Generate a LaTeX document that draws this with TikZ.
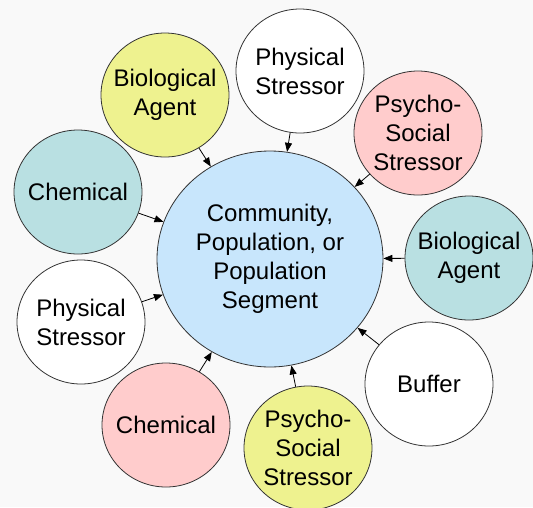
\documentclass[tikz,border=0pt]{standalone}
\usepackage{fontspec}
\setmainfont{Liberation Sans}
\usetikzlibrary{shapes.geometric,arrows.meta}
\definecolor{bgc}{HTML}{F9F9F9}
\definecolor{yel}{HTML}{EEF28F}
\definecolor{teal}{HTML}{B9E0E2}
\definecolor{pnk}{HTML}{FFCCCC}
\definecolor{blu}{HTML}{C8E6FC}
\definecolor{edge}{HTML}{333333}
\begin{document}
\begin{tikzpicture}[x=1pt,y=-1pt,
  txt/.style={align=center,inner sep=0pt,font=\fontsize{24}{29}\selectfont},
  bubble/.style={ellipse,draw=edge,line width=0.8pt,minimum width=128pt,minimum height=124pt,inner sep=0pt},
  hub/.style={bubble,minimum width=226pt,minimum height=216pt,fill=blu},
  feed/.style={draw=black,line width=0.8pt,-{Triangle[length=9pt,width=7pt]}}]
\useasboundingbox (0,0) rectangle (533,507);
\clip (0,0) rectangle (533,507);
\fill[bgc] (0,0) rectangle (533,507);

% outlines: fixed size, the text is placed on top separately
\node[hub] (c) at (270,259) {};
\node[txt] (ct) at (c) {Community,\\Population, or\\Population\\Segment};

\newcommand{\bubblenode}[4]{%
  \node[bubble,fill=#2] (#1) at (#3) {};
  \node[txt] (#1t) at (#1) {#4};}
\bubblenode{bio1}{yel}{165,95}{Biological\\Agent}
\bubblenode{phy1}{white}{300,71}{Physical\\Stressor}
\bubblenode{psy1}{pnk}{418,133}{Psycho-\\Social\\Stressor}
\bubblenode{chem1}{teal}{78,192}{Chemical}
\bubblenode{bio2}{teal}{469,258}{Biological\\Agent}
\bubblenode{phy2}{white}{81,322}{Physical\\Stressor}
\bubblenode{buf}{white}{429,384}{Buffer}
\bubblenode{chem2}{pnk}{166,425}{Chemical}
\bubblenode{psy2}{yel}{308,448}{Psycho-\\Social\\Stressor}

\foreach \s in {bio1,phy1,psy1,chem1,bio2,phy2,buf,chem2,psy2}
  \draw[feed] (\s) -- (c);
\end{tikzpicture}
\end{document}
